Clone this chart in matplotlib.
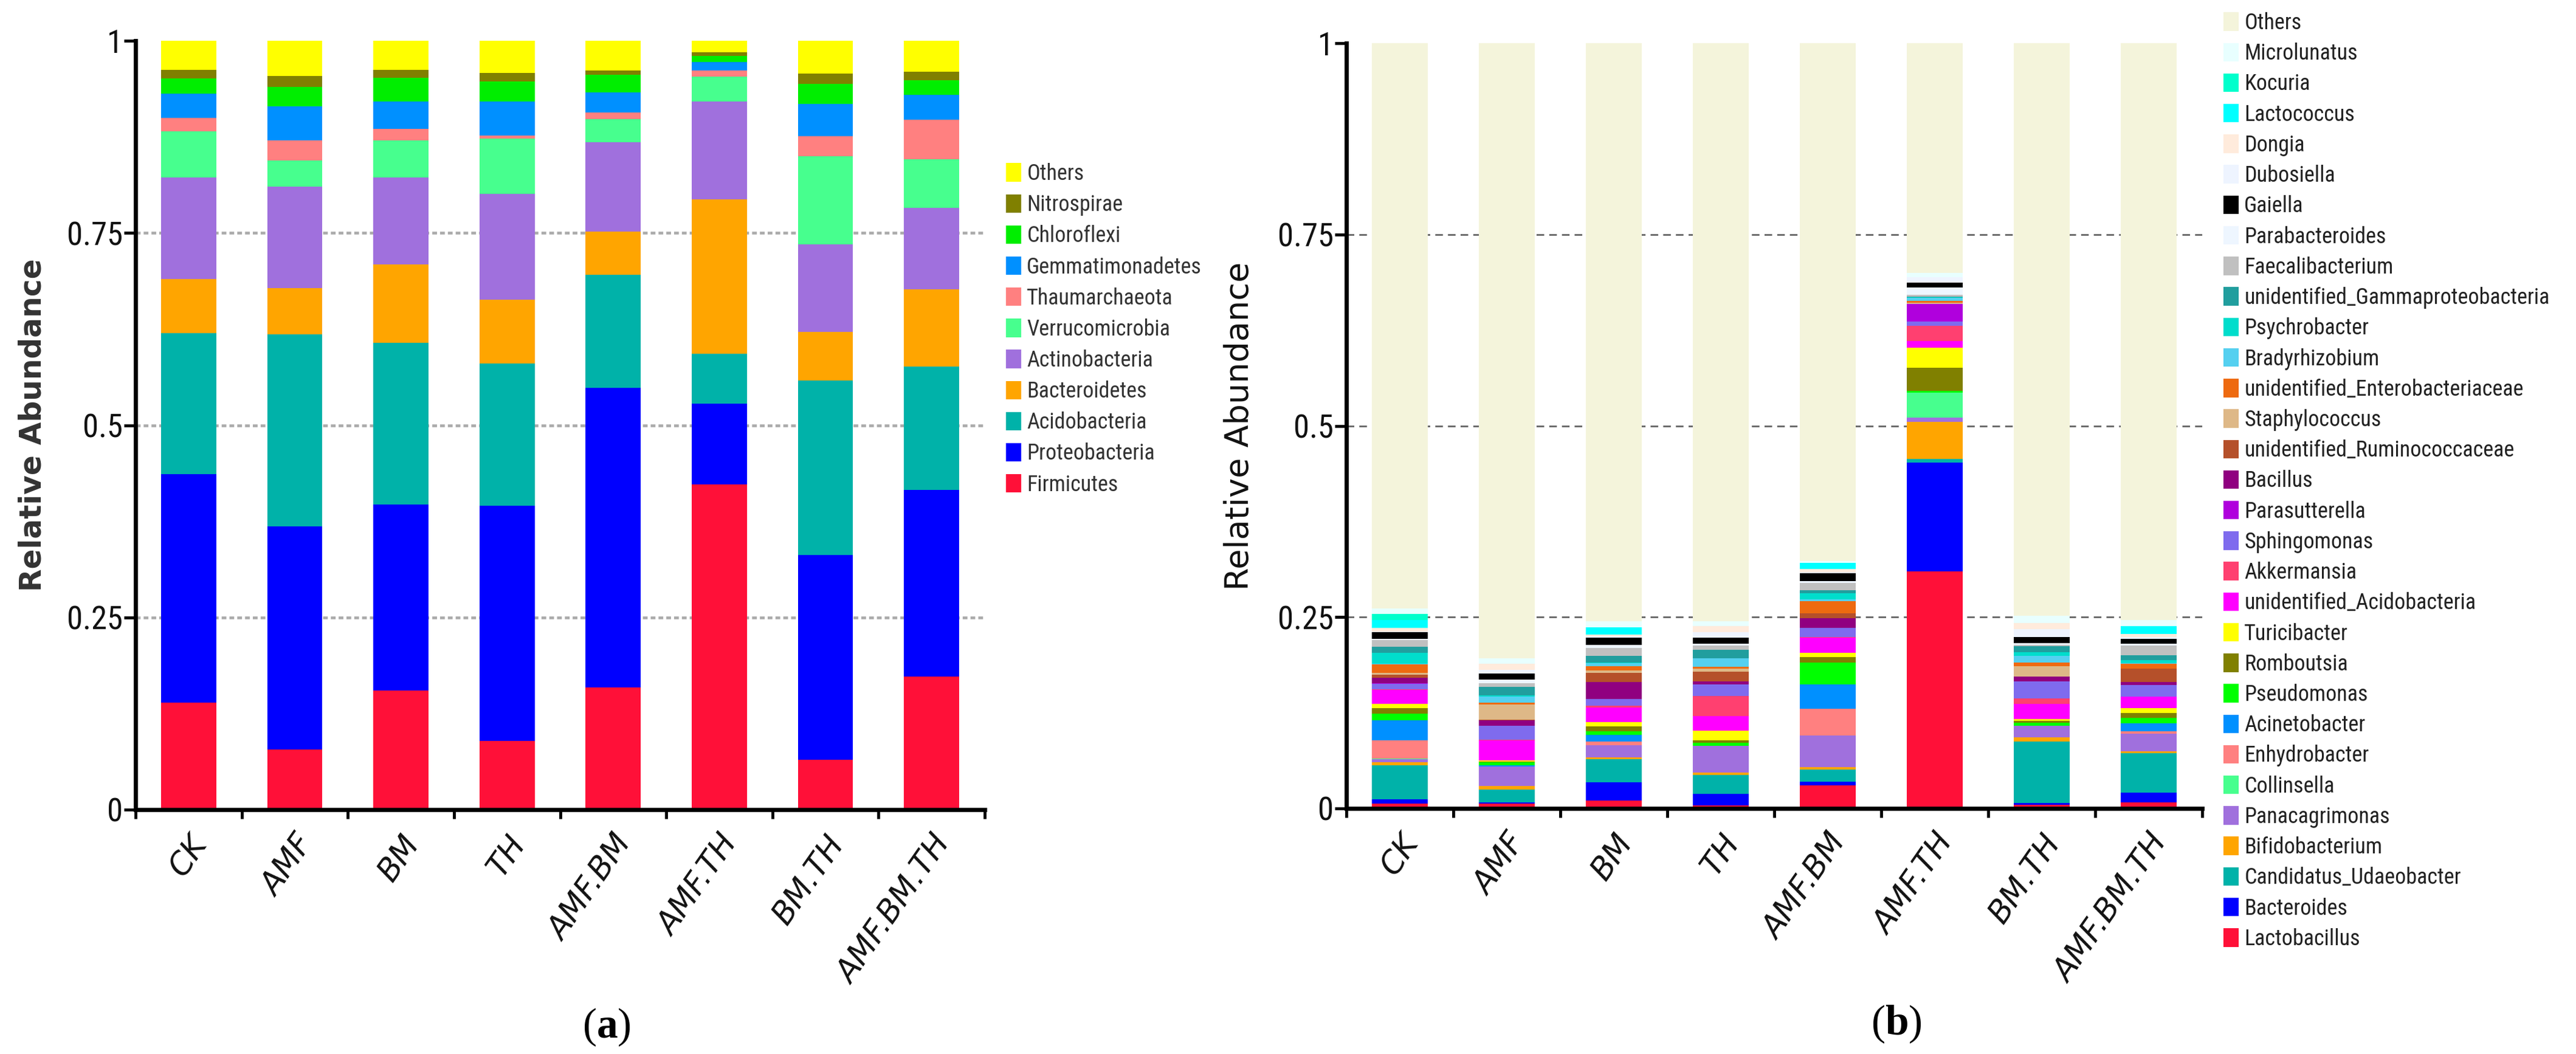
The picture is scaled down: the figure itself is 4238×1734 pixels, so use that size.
import matplotlib
matplotlib.use('Agg')
import matplotlib.pyplot as plt
import numpy as np
from matplotlib.patches import Patch

plt.rcParams['mathtext.fontset'] = 'custom'
plt.rcParams['mathtext.rm'] = 'Liberation Serif'
plt.rcParams['mathtext.bf'] = 'Liberation Serif:bold'

# ---------------- data ----------------
samples = ['CK', 'AMF', 'BM', 'TH', 'AMF.BM', 'AMF.TH', 'BM.TH', 'AMF.BM.TH']
y_ticks = [0, 0.25, 0.5, 0.75, 1]
y_tick_labels = ['0', '0.25', '0.5', '0.75', '1']

# panel (a): phyla, stacked bottom -> top
phyla = ['Firmicutes', 'Proteobacteria', 'Acidobacteria', 'Bacteroidetes',
         'Actinobacteria', 'Verrucomicrobia', 'Thaumarchaeota',
         'Gemmatimonadetes', 'Chloroflexi', 'Nitrospirae', 'Others']
phyla_colors = ['#FF1038', '#0000FF', '#00B2A9', '#FFA500', '#A070DD',
                '#47FF8E', '#FF8080', '#0090FF', '#00EE00', '#808000', '#FFFF00']
firmicutes       = [0.139, 0.078, 0.155, 0.089, 0.159, 0.423, 0.065, 0.173]
proteobacteria   = [0.297, 0.290, 0.242, 0.306, 0.390, 0.105, 0.266, 0.243]
acidobacteria    = [0.184, 0.250, 0.210, 0.185, 0.147, 0.065, 0.227, 0.160]
bacteroidetes    = [0.070, 0.060, 0.102, 0.083, 0.056, 0.201, 0.063, 0.101]
actinobacteria   = [0.132, 0.132, 0.113, 0.138, 0.116, 0.127, 0.114, 0.106]
verrucomicrobia  = [0.060, 0.034, 0.048, 0.072, 0.030, 0.032, 0.115, 0.063]
thaumarchaeota   = [0.018, 0.026, 0.015, 0.004, 0.009, 0.008, 0.026, 0.051]
gemmatimonadetes = [0.031, 0.045, 0.036, 0.044, 0.026, 0.011, 0.042, 0.033]
chloroflexi      = [0.020, 0.025, 0.031, 0.026, 0.023, 0.008, 0.026, 0.019]
nitrospirae      = [0.011, 0.014, 0.010, 0.011, 0.005, 0.005, 0.013, 0.011]
others_a         = [0.038, 0.046, 0.038, 0.042, 0.039, 0.015, 0.043, 0.040]
phyla_values = [firmicutes, proteobacteria, acidobacteria, bacteroidetes,
                actinobacteria, verrucomicrobia, thaumarchaeota,
                gemmatimonadetes, chloroflexi, nitrospirae, others_a]

# panel (b): genera, stacked bottom -> top
genera = ['Lactobacillus', 'Bacteroides', 'Candidatus_Udaeobacter',
          'Bifidobacterium', 'Panacagrimonas', 'Collinsella', 'Enhydrobacter',
          'Acinetobacter', 'Pseudomonas', 'Romboutsia', 'Turicibacter',
          'unidentified_Acidobacteria', 'Akkermansia', 'Sphingomonas',
          'Parasutterella', 'Bacillus', 'unidentified_Ruminococcaceae',
          'Staphylococcus', 'unidentified_Enterobacteriaceae', 'Bradyrhizobium',
          'Psychrobacter', 'unidentified_Gammaproteobacteria', 'Faecalibacterium',
          'Parabacteroides', 'Gaiella', 'Dubosiella', 'Dongia', 'Lactococcus',
          'Kocuria', 'Microlunatus', 'Others']
genera_colors = ['#FF1038', '#0000FF', '#00B2A9', '#FFA500', '#A070DD',
                 '#47FF8E', '#FF8080', '#0090FF', '#00FF00', '#808000',
                 '#FFFF00', '#FF00FF', '#FF4070', '#7F6BEE', '#B000DD',
                 '#900080', '#B5502A', '#DEB887', '#EE6A10', '#55D0F0',
                 '#00DDCC', '#219E9E', '#C0C0C0', '#EEF6FF', '#000000',
                 '#EEF4FF', '#FFEBDC', '#00FFFF', '#00FFCC', '#E8FFFF', '#F4F4DB']
lactobacillus   = [0.006, 0.006, 0.010, 0.004, 0.030, 0.310, 0.005, 0.008]
bacteroides     = [0.006, 0.002, 0.024, 0.015, 0.005, 0.142, 0.002, 0.013]
udaeobacter     = [0.044, 0.017, 0.030, 0.025, 0.016, 0.005, 0.080, 0.051]
bifidobacterium = [0.004, 0.004, 0.003, 0.003, 0.003, 0.048, 0.006, 0.003]
panacagrimonas  = [0.004, 0.026, 0.016, 0.035, 0.041, 0.006, 0.015, 0.023]
collinsella     = [0.001, 0.000, 0.000, 0.000, 0.000, 0.032, 0.000, 0.000]
enhydrobacter   = [0.024, 0.000, 0.004, 0.000, 0.035, 0.000, 0.000, 0.003]
acinetobacter   = [0.026, 0.001, 0.009, 0.000, 0.032, 0.000, 0.000, 0.010]
pseudomonas     = [0.009, 0.004, 0.005, 0.004, 0.029, 0.003, 0.004, 0.007]
romboutsia      = [0.007, 0.001, 0.006, 0.003, 0.007, 0.030, 0.002, 0.007]
turicibacter    = [0.006, 0.002, 0.006, 0.013, 0.005, 0.026, 0.003, 0.006]
u_acidobacteria = [0.018, 0.026, 0.019, 0.019, 0.020, 0.009, 0.020, 0.015]
akkermansia     = [0.001, 0.001, 0.002, 0.026, 0.001, 0.020, 0.007, 0.000]
sphingomonas    = [0.007, 0.018, 0.009, 0.015, 0.012, 0.005, 0.022, 0.015]
parasutterella  = [0.001, 0.000, 0.000, 0.000, 0.000, 0.023, 0.000, 0.000]
bacillus        = [0.007, 0.007, 0.022, 0.004, 0.013, 0.000, 0.006, 0.004]
u_ruminococc    = [0.004, 0.001, 0.012, 0.013, 0.006, 0.000, 0.000, 0.018]
staphylococcus  = [0.002, 0.020, 0.003, 0.004, 0.000, 0.002, 0.014, 0.000]
u_enterobact    = [0.011, 0.002, 0.006, 0.002, 0.016, 0.002, 0.005, 0.006]
bradyrhizobium  = [0.001, 0.008, 0.004, 0.011, 0.002, 0.004, 0.008, 0.001]
psychrobacter   = [0.014, 0.002, 0.001, 0.000, 0.008, 0.001, 0.005, 0.004]
u_gammaproteo   = [0.008, 0.011, 0.008, 0.011, 0.004, 0.001, 0.008, 0.006]
faecalibact     = [0.009, 0.005, 0.011, 0.006, 0.010, 0.002, 0.002, 0.013]
parabacteroides = [0.002, 0.004, 0.004, 0.002, 0.002, 0.010, 0.002, 0.002]
gaiella         = [0.008, 0.008, 0.009, 0.008, 0.010, 0.006, 0.008, 0.007]
dubosiella      = [0.001, 0.005, 0.002, 0.007, 0.002, 0.007, 0.010, 0.002]
dongia          = [0.005, 0.008, 0.002, 0.008, 0.004, 0.000, 0.008, 0.004]
lactococcus     = [0.010, 0.000, 0.010, 0.000, 0.008, 0.000, 0.000, 0.010]
kocuria         = [0.008, 0.000, 0.000, 0.000, 0.000, 0.000, 0.000, 0.000]
microlunatus    = [0.007, 0.007, 0.008, 0.007, 0.002, 0.006, 0.010, 0.008]
others_b        = [0.739, 0.804, 0.755, 0.755, 0.677, 0.300, 0.748, 0.754]
genera_values = [lactobacillus, bacteroides, udaeobacter, bifidobacterium,
                 panacagrimonas, collinsella, enhydrobacter, acinetobacter,
                 pseudomonas, romboutsia, turicibacter, u_acidobacteria,
                 akkermansia, sphingomonas, parasutterella, bacillus,
                 u_ruminococc, staphylococcus, u_enterobact, bradyrhizobium,
                 psychrobacter, u_gammaproteo, faecalibact, parabacteroides,
                 gaiella, dubosiella, dongia, lactococcus, kocuria,
                 microlunatus, others_b]

# ---------------- figure ----------------
W, H = 4238, 1734
fig = plt.figure(figsize=(W / 100, H / 100), dpi=100)
NARROW = ['Roboto Condensed', 'Roboto', 'DejaVu Sans']


def stacked(ax, series, colors):
    x = np.arange(len(samples)) + 0.5
    bottom = np.zeros(len(samples))
    for vals, c in zip(series, colors):
        v = np.asarray(vals)
        ax.bar(x, v, bottom=bottom, width=0.52, color=c, edgecolor='none',
               linewidth=0, zorder=2)
        bottom += v


def style(ax, grid_kw, ylab_kw, ylab_x):
    n = len(samples)
    ax.set_xlim(0, n)
    ax.set_ylim(0, 1)
    for s in ['top', 'right']:
        ax.spines[s].set_visible(False)
    for s in ['left', 'bottom']:
        ax.spines[s].set_linewidth(5)
        ax.spines[s].set_color('black')
        ax.spines[s].set_zorder(5)
    ax.set_xticks(np.arange(n + 1))
    ax.set_xticklabels([''] * (n + 1))
    ax.set_xticks(np.arange(n) + 0.5, minor=True)
    ax.set_xticklabels(samples, minor=True, rotation=55, ha='right', va='top',
                       rotation_mode='anchor', fontsize=37, style='italic',
                       family='DejaVu Sans', color='#111111')
    ax.tick_params(axis='x', which='major', length=11, width=3.5,
                   direction='out', color='black')
    ax.tick_params(axis='x', which='minor', length=0, pad=24)
    ax.set_yticks(y_ticks)
    ax.set_yticklabels(y_tick_labels, family=NARROW, fontsize=38,
                       color='#111111')
    ax.tick_params(axis='y', length=14, width=3.5, pad=1, color='black')
    ax.set_axisbelow(True)
    ax.yaxis.grid(True, **grid_kw)
    gl = ax.get_ygridlines()
    gl[0].set_visible(False)
    gl[-1].set_visible(False)
    ax.set_ylabel('Relative Abundance', **ylab_kw)
    ax.yaxis.set_label_coords(ylab_x, 0.5)


# panel (a)
ax_a = fig.add_axes([223 / W, (H - 1332) / H, 1397 / W, 1265 / H])
stacked(ax_a, phyla_values, phyla_colors)
style(ax_a,
      dict(color='#AAAAAA', linewidth=3.3, linestyle=(0, (1.7, 1.1))),
      dict(fontsize=35, fontweight='bold', color='#333333',
           family='DejaVu Sans'),
      -0.104)

# panel (b)
ax_b = fig.add_axes([2215 / W, (H - 1330) / H, 1408 / W, 1259 / H])
stacked(ax_b, genera_values, genera_colors)
style(ax_b,
      dict(color='#666666', linewidth=2.0, linestyle=(0, (4.5, 3))),
      dict(fontsize=39, color='#111111', family='DejaVu Sans'),
      -0.1065)

# legends
leg_kw = dict(loc='upper left', frameon=False, prop={'family': NARROW, 'size': 26},
              handlelength=0.7, handleheight=0.92, handletextpad=0.25,
              borderpad=0, borderaxespad=0)
ha = [Patch(facecolor=c, edgecolor='none') for c in phyla_colors][::-1]
fig.legend(ha, phyla[::-1], bbox_to_anchor=(1655 / W, 1 - 268 / H),
           labelcolor='#333333', labelspacing=0.42, **leg_kw)
hb = [Patch(facecolor=c, edgecolor='none') for c in genera_colors][::-1]
fig.legend(hb, genera[::-1], bbox_to_anchor=(3658 / W, 1 - 20 / H),
           labelcolor='#222222', labelspacing=0.394, **leg_kw)

# panel labels
fig.text(998 / W, 1 - 1690 / H, r'$(\mathbf{a})$', ha='center', va='center',
         fontsize=50)
fig.text(3120 / W, 1 - 1685 / H, r'$(\mathbf{b})$', ha='center', va='center',
         fontsize=50)

fig.savefig('out.png', dpi=100)
